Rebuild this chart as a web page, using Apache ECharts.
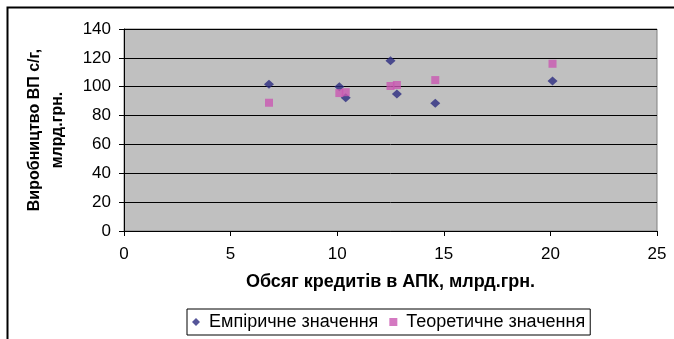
<!DOCTYPE html>
<html>
<head>
<meta charset="utf-8">
<script src="https://cdn.jsdelivr.net/npm/echarts@6/dist/echarts.min.js"></script>
<style>
html,body{margin:0;padding:0;background:#fff;}
#c{width:674px;height:339px;}
</style>
</head>
<body>
<div id="c"></div>
<script>
// Data
const credits = [6.8, 10.1, 10.4, 12.5, 12.8, 14.6, 20.1];        // x: Обсяг кредитів в АПК, млрд.грн.
const empirical = [101.7, 100.0, 92.4, 118.0, 94.9, 88.5, 104.0];  // Емпіричне значення
const theoretical = [88.9, 95.6, 96.2, 100.5, 101.2, 104.6, 115.9];// Теоретичне значення
const seriesNames = ['Емпіричне значення', 'Теоретичне значення'];
const xTitle = 'Обсяг кредитів в АПК, млрд.грн.';
const yTitle = 'Виробництво ВП с/г,\nмлрд.грн.';

const font = '"Liberation Sans", Arial, sans-serif';
const chart = echarts.init(document.getElementById('c'), null, {renderer: 'canvas'});

chart.setOption({
  animation: false,
  backgroundColor: '#fff',
  graphic: [{
    type: 'rect', left: 5, top: 5, silent: true,
    shape: {x: 0, y: 0, width: 720, height: 400},
    style: {fill: 'none', stroke: '#000', lineWidth: 2}
  }],
  grid: {
    left: 124, right: 17, top: 29, bottom: 108,
    show: true, backgroundColor: '#C0C0C0', borderColor: '#808080', borderWidth: 1
  },
  legend: {
    left: 187, top: 309,
    padding: [4, 5, 4, 5],
    itemGap: 11, itemWidth: 8, itemHeight: 8,
    borderColor: '#000', borderWidth: 1,
    textStyle: {fontFamily: font, fontSize: 18, color: '#000', padding: [0, 0, 0, 4]},
    data: [{name: seriesNames[0], icon: 'diamond'}, {name: seriesNames[1], icon: 'rect'}]
  },
  xAxis: {
    type: 'value', min: 0, max: 25, interval: 5,
    name: xTitle, nameLocation: 'middle', nameGap: 42,
    nameTextStyle: {fontFamily: font, fontSize: 18, fontWeight: 'bold', color: '#000'},
    axisLine: {show: true, onZero: false, lineStyle: {color: '#000', width: 1}},
    axisTick: {show: true, inside: false, length: 5, lineStyle: {color: '#000'}},
    axisLabel: {fontFamily: font, fontSize: 17, color: '#000', margin: 15},
    splitLine: {show: false}
  },
  yAxis: {
    type: 'value', min: 0, max: 140, interval: 20,
    name: yTitle, nameLocation: 'middle', nameGap: 55, nameRotate: 90,
    nameTextStyle: {fontFamily: font, fontSize: 16, fontWeight: 'bold', color: '#000', lineHeight: 23},
    axisLine: {show: true, onZero: false, lineStyle: {color: '#000', width: 1}},
    axisTick: {show: true, inside: false, length: 5, lineStyle: {color: '#000'}},
    axisLabel: {fontFamily: font, fontSize: 17, color: '#000', margin: 13},
    splitLine: {show: true, lineStyle: {color: '#000', width: 1}}
  },
  series: [{
    name: seriesNames[0], type: 'scatter', symbol: 'diamond', symbolSize: [10, 9],
    itemStyle: {color: '#2A2A80'},
    data: credits.map((x, i) => [x, empirical[i]])
  }, {
    name: seriesNames[1], type: 'scatter', symbol: 'rect', symbolSize: [8, 8],
    itemStyle: {color: '#C957B1'},
    data: credits.map((x, i) => [x, theoretical[i]])
  }]
});
</script>
</body>
</html>
